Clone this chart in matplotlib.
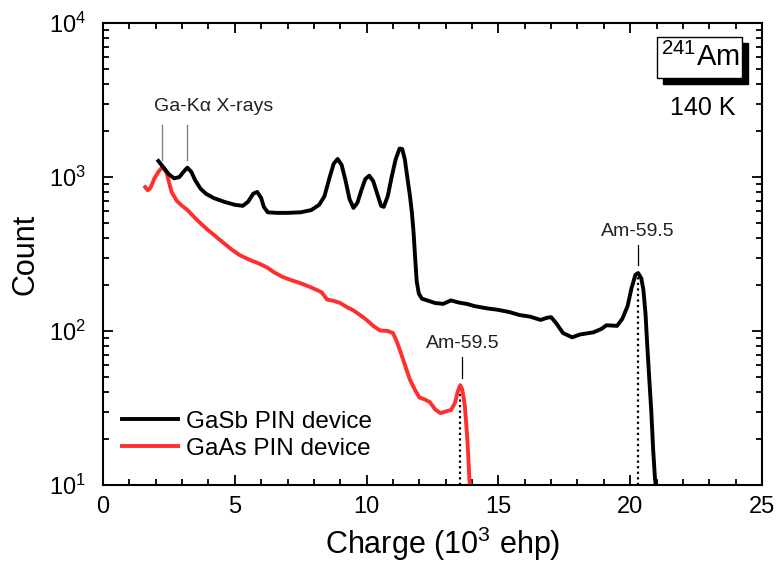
import numpy as np
import matplotlib
matplotlib.use('Agg')
import matplotlib.pyplot as plt
from matplotlib.patches import Rectangle
from matplotlib.ticker import MultipleLocator, LogLocator, NullFormatter

plt.rcParams['font.family'] = ['Liberation Sans', 'DejaVu Sans']
plt.rcParams['mathtext.fontset'] = 'custom'
plt.rcParams['mathtext.rm'] = 'Liberation Sans'

###############################################################################

# GaSb PIN device spectrum (charge in 10^3 ehp, counts)
gasb_x = [2.1, 2.3, 2.5, 2.7, 2.9, 3.05, 3.2, 3.35, 3.5, 3.7, 3.9, 4.2, 4.6,
          5.0, 5.3, 5.5, 5.7, 5.85, 6.0, 6.1, 6.25, 6.6, 7.0, 7.5, 7.9, 8.2,
          8.4, 8.6, 8.75, 8.9, 9.05, 9.2, 9.35, 9.5, 9.65, 9.8, 9.95, 10.1,
          10.25, 10.4, 10.55, 10.65, 10.8, 10.95, 11.1, 11.25, 11.35, 11.45,
          11.55, 11.65, 11.72, 11.78, 11.84, 11.9, 11.98, 12.1, 12.3, 12.6,
          12.9, 13.2, 13.5, 13.8, 14.1, 14.3, 14.6, 14.9, 15.1, 15.4, 15.8,
          16.2, 16.6, 16.85, 17.0, 17.2, 17.45, 17.8, 18.1, 18.6, 18.9, 19.1,
          19.5, 19.7, 19.9, 20.05, 20.2, 20.3, 20.42, 20.5, 20.58, 20.65,
          20.72, 20.8, 20.87, 20.94, 21.0]
gasb_y = [1270, 1150, 1040, 980, 1000, 1080, 1150, 1080, 950, 840, 780, 730,
          690, 660, 650, 690, 780, 800, 730, 640, 590, 585, 585, 590, 610,
          660, 750, 1000, 1220, 1310, 1200, 950, 720, 630, 680, 820, 970,
          1020, 940, 780, 650, 640, 750, 1000, 1300, 1530, 1520, 1300, 980,
          740, 580, 440, 300, 210, 175, 162, 158, 152, 150, 158, 153, 150,
          145, 143, 140, 138, 136, 133, 127, 124, 118, 122, 123, 112, 97, 91,
          95, 98, 103, 109, 108, 120, 145, 190, 232, 238, 220, 185, 130, 79,
          50, 30, 17, 11, 9]

# GaAs PIN device spectrum
gaas_x = [1.6, 1.7, 1.8, 1.95, 2.1, 2.25, 2.4, 2.5, 2.6, 2.8, 3.0, 3.2, 3.5,
          3.7, 4.0, 4.3, 4.6, 4.9, 5.2, 5.58, 5.9, 6.2, 6.5, 6.8, 7.1, 7.47,
          7.8, 8.1, 8.3, 8.5, 8.75, 9.0, 9.25, 9.5, 9.75, 10.0, 10.25, 10.5,
          10.8, 11.0, 11.15, 11.3, 11.5, 11.65, 11.85, 12.0, 12.2, 12.4,
          12.6, 12.8, 13.0, 13.2, 13.35, 13.45, 13.55, 13.62, 13.68, 13.73,
          13.77, 13.82, 13.86, 13.9, 13.95]
gaas_y = [860, 820, 850, 980, 1080, 1160, 1080, 930, 800, 700, 650, 611,
          540, 500, 450, 408, 370, 336, 310, 289, 275, 260, 240, 225, 215,
          205, 195, 185, 178, 160, 157, 152, 143, 136, 127, 118, 108, 101,
          100, 97, 85, 72, 57, 48, 41, 37, 36, 34.5, 31, 29.3, 30, 30.7, 34,
          40, 44.5, 42, 37, 32, 26, 20, 15, 10.8, 9]

# Peak positions
am_peak_gasb = (20.3, 238)
am_peak_gaas = (13.55, 44.5)
gak_x = [2.24, 3.19]

###############################################################################

fig = plt.figure(figsize=(7.77, 5.67), dpi=100)
ax = fig.add_axes([0.1326, 0.1446, 0.8481, 0.8148])

ax.plot(gasb_x, gasb_y, color='black', lw=2.8, solid_joinstyle='round',
        label='GaSb PIN device', zorder=3)
ax.plot(gaas_x, gaas_y, color='#ff2f2f', lw=2.8, solid_joinstyle='round',
        label='GaAs PIN device', zorder=2)

# dotted lines from the Am peaks down
for px, py in [am_peak_gasb, am_peak_gaas]:
    ax.plot([px, px], [10, py], color='black', ls=(0, (1, 1.5)), lw=1.6,
            zorder=1)

# annotations
ax.text(20.3, 440, 'Am-59.5', ha='center', va='center', fontsize=14,
        color='#222222')
ax.plot([20.3, 20.3], [268, 360], color='black', lw=0.9)
ax.text(13.65, 83.5, 'Am-59.5', ha='center', va='center', fontsize=14,
        color='#222222')
ax.plot([13.6, 13.6], [49.5, 67.6], color='black', lw=0.9)

ax.text(4.2, 2850, 'Ga-K\u03b1 X-rays', ha='center', va='center',
        fontsize=14, color='#222222')
for gx in gak_x:
    ax.plot([gx, gx], [1290, 2180], color='gray', lw=1.0)

# 241Am box with shadow
ax.add_patch(Rectangle((0.8497, 0.868), 0.129, 0.0887, transform=ax.transAxes,
                       facecolor='black', edgecolor='black', zorder=4))
ax.add_patch(Rectangle((0.8407, 0.881), 0.129, 0.0887, transform=ax.transAxes,
                       facecolor='white', edgecolor='black', lw=1.0, zorder=5))
ax.text(0.906, 0.925, r'$^{241}$Am', transform=ax.transAxes, ha='center',
        va='center', fontsize=21, zorder=6)
ax.text(0.910, 0.816, '140 K', transform=ax.transAxes, ha='center',
        va='center', fontsize=18)

ax.set_yscale('log')
ax.set_xlim(0, 25)
ax.set_ylim(10, 1e4)
ax.xaxis.set_major_locator(MultipleLocator(5))
ax.xaxis.set_minor_locator(MultipleLocator(1))
ax.yaxis.set_minor_locator(LogLocator(base=10, subs=np.arange(2, 10)))
ax.yaxis.set_minor_formatter(NullFormatter())

ax.tick_params(which='both', direction='in', top=True, right=True,
               width=1.3)
ax.tick_params(which='major', length=7, labelsize=17)
ax.tick_params(which='minor', length=4)
ax.tick_params(axis='x', pad=8)
ax.tick_params(axis='y', pad=12)
for sp in ax.spines.values():
    sp.set_linewidth(1.5)

ax.set_xlabel(r'Charge (10$^3$ ehp)', fontsize=22)
ax.set_ylabel('Count', fontsize=22)
ax.xaxis.set_label_coords(0.516, -0.085)
ax.yaxis.set_label_coords(-0.095, 0.5)

ax.legend(loc='center left', frameon=False, fontsize=17.5, handlelength=2.3,
          handletextpad=0.3, labelspacing=0.2,
          bbox_to_anchor=(0.0146, 0.108), borderaxespad=0.0)

plt.savefig('out.png', dpi=100)
